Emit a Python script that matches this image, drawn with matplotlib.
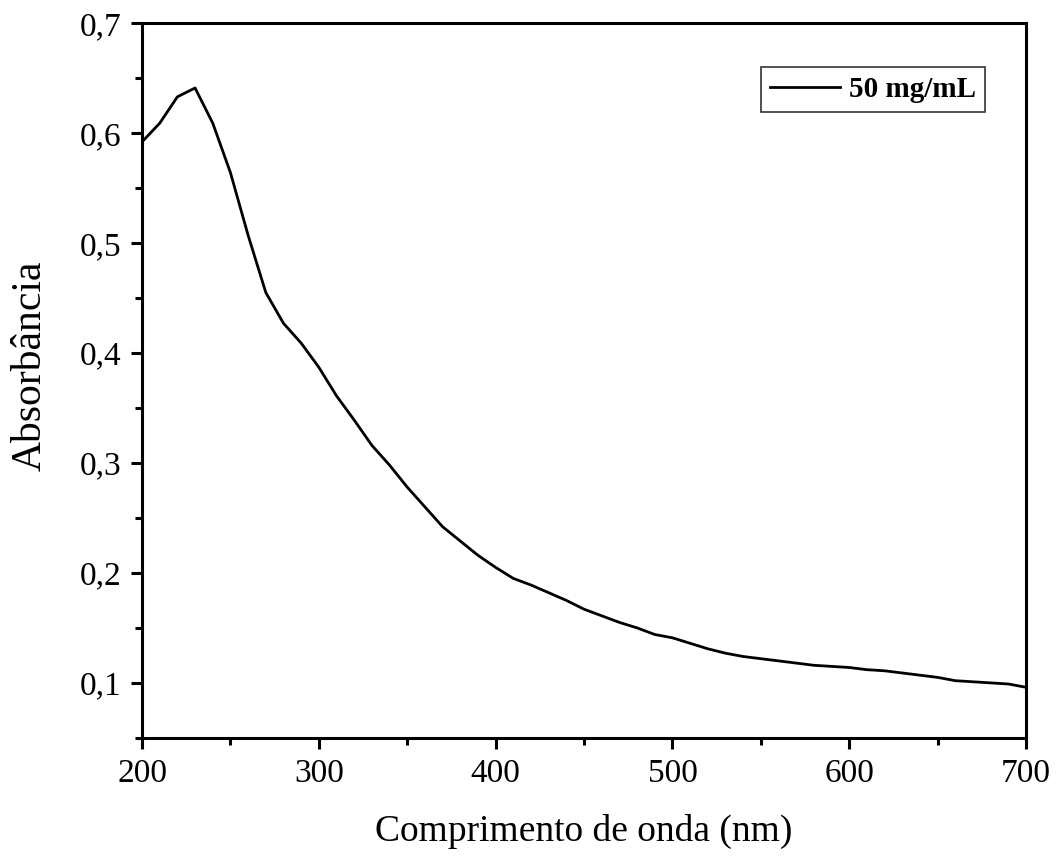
import numpy as np
import matplotlib
matplotlib.use("Agg")
import matplotlib.pyplot as plt
from matplotlib.ticker import MultipleLocator, FuncFormatter

# wavelength (nm) and absorbance
wavelength = [200, 210, 220, 230, 240, 250, 260, 270, 280, 290,
              300, 310, 320, 330, 340, 350, 360, 370, 380, 390,
              400, 410, 420, 430, 440, 450, 460, 470, 480, 490,
              500, 510, 520, 530, 540, 550, 560, 570, 580, 590,
              600, 610, 620, 630, 640, 650, 660, 670, 680, 690, 700]
absorbance = [0.592, 0.609, 0.633, 0.641, 0.609, 0.564, 0.507, 0.455, 0.427, 0.409,
              0.387, 0.361, 0.339, 0.316, 0.298, 0.278, 0.260, 0.242, 0.229, 0.216,
              0.205, 0.195, 0.189, 0.182, 0.175, 0.167, 0.161, 0.155, 0.150, 0.144,
              0.141, 0.136, 0.131, 0.127, 0.124, 0.122, 0.120, 0.118, 0.116, 0.115,
              0.114, 0.112, 0.111, 0.109, 0.107, 0.105, 0.102, 0.101, 0.100, 0.099, 0.096]
label = "50 mg/mL"

plt.rcParams['font.family'] = ['Liberation Serif', 'DejaVu Serif']

fig = plt.figure(figsize=(10.6, 8.56), dpi=100)
ax = fig.add_axes([0.134, 0.138, 0.834, 0.835])

ax.plot(wavelength, absorbance, color='black', linewidth=2.0, label=label)

ax.set_xlim(200, 700)
ax.set_ylim(0.05, 0.7)
ax.xaxis.set_major_locator(MultipleLocator(100))
ax.xaxis.set_minor_locator(MultipleLocator(50))
ax.yaxis.set_major_locator(MultipleLocator(0.1))
ax.yaxis.set_minor_locator(MultipleLocator(0.05))
ax.yaxis.set_major_formatter(FuncFormatter(lambda v, p: f"{v:.1f}".replace('.', ',')))

for s in ax.spines.values():
    s.set_linewidth(2.2)
ax.tick_params(which='both', direction='out', width=2.2, labelsize=24, top=False, right=False)
ax.tick_params(which='major', length=8, pad=7)
ax.tick_params(which='minor', length=5)

ax.set_xlabel("Comprimento de onda (nm)", fontsize=27, labelpad=18)
ax.set_ylabel("Absorbância", fontsize=30)
ax.yaxis.set_label_coords(-0.104, 0.52)

leg = ax.legend(loc='upper right', bbox_to_anchor=(0.953, 0.938), fancybox=False,
                edgecolor='black', prop={'weight': 'bold', 'size': 21},
                handlelength=2.4, handletextpad=0.3, borderpad=0.3, borderaxespad=0)
leg.get_frame().set_linewidth(1.2)

fig.savefig("out.png", dpi=100)
